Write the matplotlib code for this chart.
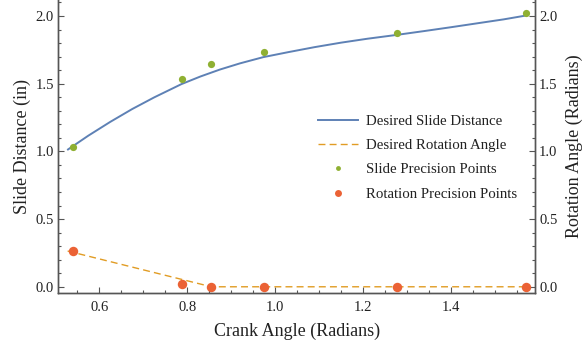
import matplotlib
matplotlib.use("Agg")
import matplotlib.pyplot as plt
from matplotlib.lines import Line2D
from matplotlib.ticker import MultipleLocator

plt.rcParams['font.family'] = ['Liberation Serif', 'DejaVu Serif']

# Desired slide distance curve (crank angle in radians -> slide in inches)
crank_curve = [0.527, 0.575, 0.625, 0.675, 0.725, 0.787, 0.830, 0.874, 0.920, 0.973,
               1.030, 1.090, 1.150, 1.210, 1.276, 1.340, 1.400, 1.460, 1.520, 1.570]
slide_curve = [1.010, 1.116, 1.218, 1.313, 1.399, 1.497, 1.553, 1.604, 1.650, 1.696,
               1.733, 1.770, 1.803, 1.832, 1.860, 1.889, 1.917, 1.946, 1.975, 2.003]

# Desired rotation angle (piecewise linear)
crank_rot = [0.528, 0.855, 1.570]
rot_curve = [0.264, 0.000, 0.000]

# Precision points
crank_pts = [0.540, 0.788, 0.855, 0.975, 1.277, 1.570]
slide_pts = [1.032, 1.535, 1.646, 1.734, 1.875, 2.025]
rot_pts = [0.266, 0.018, 0.000, 0.000, 0.000, 0.000]

blue = '#5E81B5'
orange = '#E19C24'
green = '#8FB032'
red = '#EB6235'
spine_c = '#555555'
text_c = '#222222'

fig = plt.figure(figsize=(5.84, 3.51), dpi=100)
ax = fig.add_axes([0.0998, 0.166, 0.8162, 0.834])
ax2 = ax.twinx()

ax.plot(crank_curve, slide_curve, color=blue, lw=1.4, solid_capstyle='butt',
        solid_joinstyle='round')
ax2.plot(crank_rot, rot_curve, color=orange, lw=1.0, dashes=(5, 3))
ax.plot(crank_pts, slide_pts, 'o', color=green, ms=5.2, mew=0)
ax2.plot(crank_pts, rot_pts, 'o', color=red, ms=6.8, mew=0)

xlim = (0.5067, 1.591)
ylim = (-0.044, 2.118)
for a in (ax, ax2):
    a.set_xlim(*xlim)
    a.set_ylim(*ylim)
    a.yaxis.set_major_locator(MultipleLocator(0.5))
    a.yaxis.set_minor_locator(MultipleLocator(0.1))
    a.spines['top'].set_visible(False)
    for s in a.spines.values():
        s.set_color(spine_c)
        s.set_linewidth(1.0)
    a.tick_params(which='both', direction='in', color=spine_c, labelcolor=text_c,
                  labelsize=10.5, width=0.8)
    a.tick_params(which='major', length=4)
    a.tick_params(which='minor', length=2.5)
    a.yaxis.set_major_formatter(plt.FuncFormatter(lambda v, p: f"{v:.1f}"))

ax.xaxis.set_major_locator(MultipleLocator(0.2))
ax.xaxis.set_minor_locator(MultipleLocator(0.05))
ax.xaxis.set_major_formatter(plt.FuncFormatter(lambda v, p: f"{v:.1f}"))
ax.tick_params(axis='x', pad=6)
ax.tick_params(axis='y', pad=3)
ax2.tick_params(axis='y', pad=3)

ax.set_xlabel('Crank Angle (Radians)', fontsize=13, color=text_c, labelpad=6)
ax.set_ylabel('Slide Distance (in)', fontsize=13, color=text_c, labelpad=3)
ax2.set_ylabel('Rotation Angle (Radians)', fontsize=13, color=text_c, labelpad=6)

handles = [
    Line2D([], [], color=blue, lw=1.4),
    Line2D([], [], color=orange, lw=1.0, dashes=(5, 3)),
    Line2D([], [], ls='none', marker='o', color=green, ms=3.5, mew=0),
    Line2D([], [], ls='none', marker='o', color=red, ms=5.0, mew=0),
]
labels = ['Desired Slide Distance', 'Desired Rotation Angle',
          'Slide Precision Points', 'Rotation Precision Points']
leg = ax2.legend(handles, labels, loc='upper left', bbox_to_anchor=(0.5445, 0.6736),
                 bbox_transform=fig.transFigure, frameon=False, borderpad=0,
                 borderaxespad=0, handlelength=2.69, handletextpad=0.54,
                 labelspacing=0.73, fontsize=10.7)
for t in leg.get_texts():
    t.set_color(text_c)

fig.savefig('out.png', dpi=100)
